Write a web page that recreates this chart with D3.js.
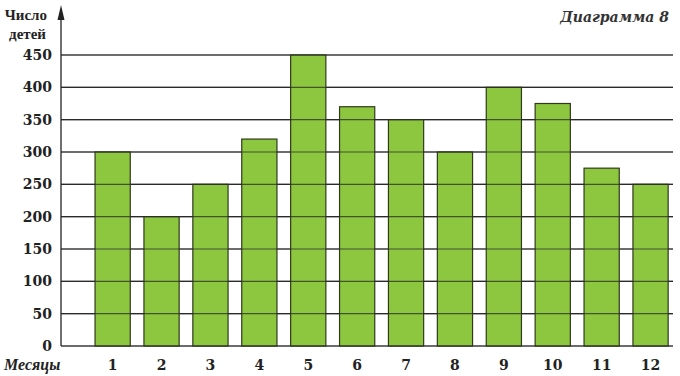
<!DOCTYPE html>
<html>
<head>
<meta charset="utf-8">
<script src="https://cdn.jsdelivr.net/npm/d3@7"></script>
<style>
  body { margin: 0; background: #fff; }
  svg { display: block; }
</style>
</head>
<body>
<svg id="chart"></svg>
<script>
// chart data
const months = ["1", "2", "3", "4", "5", "6", "7", "8", "9", "10", "11", "12"];
const children = [300, 200, 250, 320, 450, 370, 350, 300, 400, 375, 275, 250];
const yTicks = [0, 50, 100, 150, 200, 250, 300, 350, 400, 450];

const width = 680, height = 376;
const svg = d3.select("#chart").attr("width", width).attr("height", height);

const axisX = 61, right = 673;
const serif = "'DejaVu Serif', 'Liberation Serif', serif";

const x = d3.scaleBand()
    .domain(months)
    .range([88.2, 675])
    .paddingInner(0.28)
    .paddingOuter(0.14);

const y = d3.scaleLinear().domain([0, 450]).range([346, 55]);

// grid lines
svg.append("g").selectAll("line")
    .data(yTicks)
    .enter().append("line")
    .attr("x1", axisX).attr("x2", right)
    .attr("y1", d => y(d)).attr("y2", d => y(d))
    .attr("stroke", "#2b2b2b")
    .attr("stroke-width", 1.2);

// bars
svg.append("g").selectAll("rect")
    .data(children)
    .enter().append("rect")
    .attr("x", (d, i) => x(months[i]))
    .attr("y", d => y(d))
    .attr("width", x.bandwidth())
    .attr("height", d => y(0) - y(d))
    .attr("fill", "#8dc63f")
    .attr("stroke", "#2f3a1c")
    .attr("stroke-width", 1.2);

// grid lines again over the bars (they show through in the picture)
svg.append("g").selectAll("line")
    .data(yTicks)
    .enter().append("line")
    .attr("x1", axisX).attr("x2", right)
    .attr("y1", d => y(d)).attr("y2", d => y(d))
    .attr("stroke", "#2b2b2b")
    .attr("stroke-opacity", 0.75)
    .attr("stroke-width", 1.1);

// y axis with arrow
svg.append("line")
    .attr("x1", axisX).attr("x2", axisX)
    .attr("y1", y(0)).attr("y2", 14)
    .attr("stroke", "#222").attr("stroke-width", 1.3);
svg.append("path")
    .attr("d", `M${axisX},5 L${axisX - 3.5},20 L${axisX + 3.5},20 Z`)
    .attr("fill", "#222");

// tick labels
svg.append("g").selectAll("text")
    .data(yTicks)
    .enter().append("text")
    .attr("x", 52)
    .attr("y", d => y(d) + 5)
    .attr("text-anchor", "end")
    .attr("font-family", serif)
    .attr("font-weight", "bold")
    .attr("font-size", 14)
    .attr("fill", "#222")
    .text(d => d);

svg.append("g").selectAll("text")
    .data(months)
    .enter().append("text")
    .attr("x", d => x(d) + x.bandwidth() / 2)
    .attr("y", 370)
    .attr("text-anchor", "middle")
    .attr("font-family", serif)
    .attr("font-weight", "bold")
    .attr("font-size", 14)
    .attr("fill", "#222")
    .text(d => d);

// titles
svg.append("text")
    .attr("x", 4).attr("y", 370)
    .attr("font-family", "'Liberation Serif', serif")
    .attr("font-style", "italic")
    .attr("font-weight", "bold")
    .attr("font-size", 16)
    .attr("fill", "#222")
    .text("Месяцы");

svg.append("text")
    .attr("x", 47).attr("y", 20)
    .attr("text-anchor", "end")
    .attr("font-family", "'Liberation Serif', serif")
    .attr("font-weight", "bold")
    .attr("font-size", 15)
    .attr("fill", "#222")
    .text("Число");
svg.append("text")
    .attr("x", 46).attr("y", 39)
    .attr("text-anchor", "end")
    .attr("font-family", "'Liberation Serif', serif")
    .attr("font-weight", "bold")
    .attr("font-size", 15)
    .attr("fill", "#222")
    .text("детей");

svg.append("text")
    .attr("x", 669).attr("y", 22)
    .attr("text-anchor", "end")
    .attr("font-family", serif)
    .attr("font-style", "italic")
    .attr("font-weight", "bold")
    .attr("font-size", 14)
    .attr("fill", "#333")
    .text("Диаграмма 8");
</script>
</body>
</html>
